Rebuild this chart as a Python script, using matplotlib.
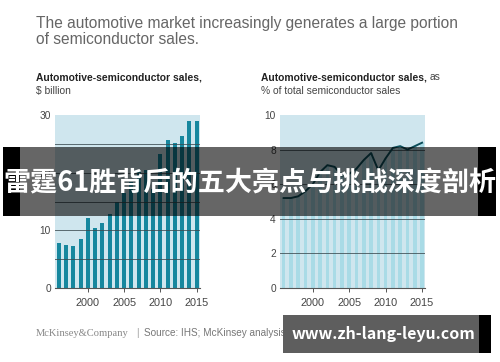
import matplotlib
matplotlib.use("Agg")
import matplotlib.pyplot as plt
from matplotlib.patches import Rectangle

years = list(range(1996, 2016))
sales_bn = [7.8, 7.5, 7.2, 8.5, 12.1, 10.4, 11.3, 12.9, 14.9, 16.5,
            18.3, 20.4, 20.4, 17.2, 23.2, 25.6, 25.2, 26.4, 29.0, 29.0]
share_pct = [5.2, 5.2, 5.3, 5.6, 6.0, 6.7, 7.1, 7.0, 6.5, 6.6,
             6.9, 7.4, 7.8, 6.8, 7.5, 8.1, 8.2, 8.0, 8.2, 8.4]
xticks = [2000, 2005, 2010, 2015]
left_yticks = [0, 10, 20, 30]
right_yticks = [0, 2, 4, 6, 8, 10]

W, H = 500, 362
fig = plt.figure(figsize=(5.0, 3.62), dpi=100)
fig.patch.set_facecolor("white")
FONT = ["Liberation Sans", "DejaVu Sans"]

def fx(px):
    return px / W

def fy(py):
    return 1 - py / H

bg = "#cfe6ee"
tick_col = "#444444"

# Left chart
ax1 = fig.add_axes([fx(55), fy(288), 145 / W, 173 / H])
ax1.set_facecolor(bg)
ax1.bar(years, sales_bn, width=0.55, color="#16879e", zorder=2)
for g in [5, 10, 15, 20, 25]:
    ax1.axhline(g, color="#3a4a50", lw=0.7, alpha=0.8, zorder=3)
ax1.set_xlim(1995.45, 2015.45)
ax1.set_ylim(0, 30)
ax1.set_xticks(xticks)
ax1.set_yticks(left_yticks)

# Right chart
ax2 = fig.add_axes([fx(280), fy(288), 145 / W, 173 / H])
ax2.set_facecolor(bg)
ax2.bar(years, share_pct, width=0.5, color="#a9dbe6", zorder=1)
for g in [2, 4, 6, 8]:
    ax2.axhline(g, color="#3a4a50", lw=0.7, alpha=0.8, zorder=3)
ax2.plot(years, share_pct, color="#0d4f5b", lw=1.4, zorder=4)
ax2.set_xlim(1995.5, 2015.4)
ax2.set_ylim(0, 10)
ax2.set_xticks(xticks)
ax2.set_yticks(right_yticks)

for ax in (ax1, ax2):
    for s in ("top", "right", "left"):
        ax.spines[s].set_visible(False)
    ax.spines["bottom"].set_color("#555555")
    ax.spines["bottom"].set_linewidth(0.8)
    ax.tick_params(axis="x", length=3, width=0.7, color="#555555",
                   labelsize=7.8, labelcolor=tick_col, pad=4)
    ax.tick_params(axis="y", length=0, labelsize=7.3, labelcolor=tick_col, pad=3)
    for lab in ax.get_xticklabels() + ax.get_yticklabels():
        lab.set_family(FONT)

# Titles
fig.text(fx(36), fy(16), "The automotive market increasingly generates a large portion\nof semiconductor sales.",
         ha="left", va="top", fontsize=11.2, color="#666666", family=FONT, linespacing=1.05)
sub = 7.4
fig.text(fx(36), fy(72), "Automotive-semiconductor sales,", ha="left", va="top",
         fontsize=sub, color="#222222", family=FONT, fontweight="bold")
fig.text(fx(36), fy(86), "$ billion", ha="left", va="top",
         fontsize=sub, color="#444444", family=FONT)
t = fig.text(fx(261), fy(72), "Automotive-semiconductor sales,", ha="left", va="top",
             fontsize=sub, color="#222222", family=FONT, fontweight="bold")
fig.canvas.draw()
bb = t.get_window_extent()
fig.text(bb.x1 / W + 0.005, fy(72), "as", ha="left", va="top",
         fontsize=sub, color="#444444", family=FONT)
fig.text(fx(261), fy(86), "% of total semiconductor sales", ha="left", va="top",
         fontsize=sub, color="#444444", family=FONT)

# Footer
fig.text(fx(36), fy(333), "McKinsey&Company", ha="left", va="center",
         fontsize=7.6, color="#888888", family=["Liberation Serif", "DejaVu Serif"])
fig.text(fx(136), fy(333), "|", ha="left", va="center",
         fontsize=7.2, color="#999999", family=FONT)
fig.text(fx(144), fy(333), "Source: IHS; McKinsey analysis", ha="left", va="center",
         fontsize=7.2, color="#777777", family=FONT)

# Overlay banner
fig.patches.append(Rectangle((fx(20), fy(216)), (478 - 20) / W, 69 / H,
                             transform=fig.transFigure, facecolor="black",
                             alpha=0.6, edgecolor="none", zorder=10))
fig.patches.append(Rectangle((fx(3), fy(216)), 17 / W, 69 / H,
                             transform=fig.transFigure, facecolor="black",
                             edgecolor="none", zorder=10))
fig.patches.append(Rectangle((fx(478), fy(216)), 18 / W, 69 / H,
                             transform=fig.transFigure, facecolor="black",
                             edgecolor="none", zorder=10))
fig.text(0.5, fy(183), "雷霆61胜背后的五大亮点与挑战深度剖析", ha="center", va="center",
         fontsize=19.5, color="white", fontweight="bold",
         family=["Noto Sans CJK SC", "DejaVu Sans"], zorder=11)

# Bottom banner
fig.patches.append(Rectangle((fx(283), fy(353)), (479 - 283) / W, 38 / H,
                             transform=fig.transFigure, facecolor="#5e5e5e",
                             edgecolor="none", zorder=10))
fig.patches.append(Rectangle((fx(479), fy(353)), 12 / W, 38 / H,
                             transform=fig.transFigure, facecolor="black",
                             edgecolor="none", zorder=10))
fig.text(fx(383), fy(334), "www.zh-lang-leyu.com", ha="center", va="center",
         fontsize=11.5, color="white", fontweight="bold",
         family=["Noto Sans CJK SC", "DejaVu Sans"], zorder=11)

fig.savefig("out.png", dpi=100)
